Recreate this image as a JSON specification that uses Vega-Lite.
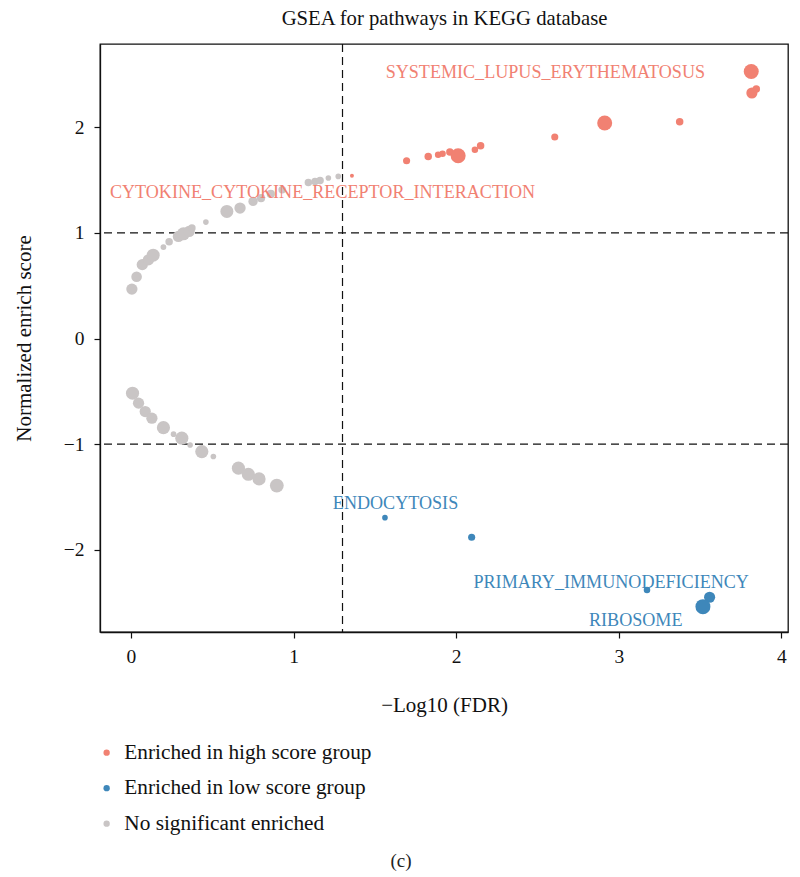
{
  "$schema": "https://vega.github.io/schema/vega-lite/v6.json",
  "width": 688,
  "height": 588,
  "autosize": "none",
  "padding": {"left": 100, "top": 44, "right": 12, "bottom": 245},
  "background": "white",
  "title": {
    "text": "(c)",
    "orient": "bottom",
    "anchor": "middle",
    "offset": 18,
    "dx": -43,
    "font": "Liberation Serif",
    "fontSize": 19,
    "fontWeight": "normal",
    "color": "#222"
  },
  "config": {
    "font": "Liberation Serif",
    "view": {"stroke": "#111", "strokeWidth": 1.3},
    "axis": {
      "grid": false,
      "domainColor": "#111",
      "domainWidth": 1.3,
      "tickColor": "#111",
      "tickWidth": 1.2,
      "tickSize": 6,
      "labelFont": "Liberation Serif",
      "labelFontSize": 19.5,
      "labelColor": "#111",
      "titleFont": "Liberation Serif",
      "titleFontSize": 21,
      "titleFontWeight": "normal",
      "titleColor": "#111"
    },
    "legend": {
      "labelFont": "Liberation Serif",
      "labelFontSize": 21.3,
      "labelColor": "#111",
      "labelLimit": 0
    }
  },
  "datasets": {
    "pathways": [
      {"fdr": 3.814, "nes": 2.530, "genes": 200, "group": "Enriched in high score group"},
      {"fdr": 3.818, "nes": 2.326, "genes": 110, "group": "Enriched in high score group"},
      {"fdr": 3.845, "nes": 2.364, "genes": 50, "group": "Enriched in high score group"},
      {"fdr": 3.374, "nes": 2.054, "genes": 50, "group": "Enriched in high score group"},
      {"fdr": 2.913, "nes": 2.042, "genes": 200, "group": "Enriched in high score group"},
      {"fdr": 2.606, "nes": 1.909, "genes": 45, "group": "Enriched in high score group"},
      {"fdr": 1.695, "nes": 1.684, "genes": 45, "group": "Enriched in high score group"},
      {"fdr": 1.828, "nes": 1.725, "genes": 50, "group": "Enriched in high score group"},
      {"fdr": 1.889, "nes": 1.741, "genes": 38, "group": "Enriched in high score group"},
      {"fdr": 1.916, "nes": 1.751, "genes": 38, "group": "Enriched in high score group"},
      {"fdr": 1.961, "nes": 1.767, "genes": 50, "group": "Enriched in high score group"},
      {"fdr": 2.012, "nes": 1.732, "genes": 200, "group": "Enriched in high score group"},
      {"fdr": 2.115, "nes": 1.789, "genes": 38, "group": "Enriched in high score group"},
      {"fdr": 2.150, "nes": 1.827, "genes": 50, "group": "Enriched in high score group"},
      {"fdr": 1.359, "nes": 1.542, "genes": 14, "group": "Enriched in high score group"},
      {"fdr": 1.562, "nes": -1.697, "genes": 28, "group": "Enriched in low score group"},
      {"fdr": 2.095, "nes": -1.883, "genes": 45, "group": "Enriched in low score group"},
      {"fdr": 3.173, "nes": -2.382, "genes": 38, "group": "Enriched in low score group"},
      {"fdr": 3.558, "nes": -2.451, "genes": 110, "group": "Enriched in low score group"},
      {"fdr": 3.517, "nes": -2.540, "genes": 200, "group": "Enriched in low score group"},
      {"fdr": 0.006, "nes": 0.468, "genes": 113, "group": "No significant enriched"},
      {"fdr": 0.035, "nes": 0.585, "genes": 100, "group": "No significant enriched"},
      {"fdr": 0.070, "nes": 0.700, "genes": 113, "group": "No significant enriched"},
      {"fdr": 0.108, "nes": 0.746, "genes": 113, "group": "No significant enriched"},
      {"fdr": 0.137, "nes": 0.790, "genes": 150, "group": "No significant enriched"},
      {"fdr": 0.200, "nes": 0.866, "genes": 30, "group": "No significant enriched"},
      {"fdr": 0.235, "nes": 0.916, "genes": 50, "group": "No significant enriched"},
      {"fdr": 0.292, "nes": 0.967, "genes": 113, "group": "No significant enriched"},
      {"fdr": 0.323, "nes": 0.992, "genes": 150, "group": "No significant enriched"},
      {"fdr": 0.358, "nes": 1.014, "genes": 113, "group": "No significant enriched"},
      {"fdr": 0.375, "nes": 1.046, "genes": 50, "group": "No significant enriched"},
      {"fdr": 0.461, "nes": 1.103, "genes": 28, "group": "No significant enriched"},
      {"fdr": 0.590, "nes": 1.204, "genes": 150, "group": "No significant enriched"},
      {"fdr": 0.671, "nes": 1.236, "genes": 113, "group": "No significant enriched"},
      {"fdr": 0.751, "nes": 1.299, "genes": 78, "group": "No significant enriched"},
      {"fdr": 0.800, "nes": 1.330, "genes": 60, "group": "No significant enriched"},
      {"fdr": 0.860, "nes": 1.370, "genes": 60, "group": "No significant enriched"},
      {"fdr": 0.930, "nes": 1.410, "genes": 50, "group": "No significant enriched"},
      {"fdr": 1.091, "nes": 1.479, "genes": 50, "group": "No significant enriched"},
      {"fdr": 1.132, "nes": 1.488, "genes": 50, "group": "No significant enriched"},
      {"fdr": 1.163, "nes": 1.498, "genes": 50, "group": "No significant enriched"},
      {"fdr": 1.214, "nes": 1.520, "genes": 28, "group": "No significant enriched"},
      {"fdr": 1.275, "nes": 1.536, "genes": 28, "group": "No significant enriched"},
      {"fdr": 0.010, "nes": -0.518, "genes": 154, "group": "No significant enriched"},
      {"fdr": 0.047, "nes": -0.612, "genes": 113, "group": "No significant enriched"},
      {"fdr": 0.088, "nes": -0.692, "genes": 113, "group": "No significant enriched"},
      {"fdr": 0.129, "nes": -0.755, "genes": 113, "group": "No significant enriched"},
      {"fdr": 0.200, "nes": -0.844, "genes": 154, "group": "No significant enriched"},
      {"fdr": 0.262, "nes": -0.906, "genes": 28, "group": "No significant enriched"},
      {"fdr": 0.313, "nes": -0.944, "genes": 154, "group": "No significant enriched"},
      {"fdr": 0.364, "nes": -1.008, "genes": 28, "group": "No significant enriched"},
      {"fdr": 0.436, "nes": -1.071, "genes": 154, "group": "No significant enriched"},
      {"fdr": 0.507, "nes": -1.118, "genes": 28, "group": "No significant enriched"},
      {"fdr": 0.661, "nes": -1.228, "genes": 154, "group": "No significant enriched"},
      {"fdr": 0.722, "nes": -1.286, "genes": 154, "group": "No significant enriched"},
      {"fdr": 0.788, "nes": -1.330, "genes": 154, "group": "No significant enriched"},
      {"fdr": 0.897, "nes": -1.393, "genes": 170, "group": "No significant enriched"}
    ],
    "labels": [
      {"fdr": 2.548, "nes": 2.518, "name": "SYSTEMIC_LUPUS_ERYTHEMATOSUS", "group": "Enriched in high score group"},
      {"fdr": 1.178, "nes": 1.381, "name": "CYTOKINE_CYTOKINE_RECEPTOR_INTERACTION", "group": "Enriched in high score group"},
      {"fdr": 1.627, "nes": -1.567, "name": "ENDOCYTOSIS", "group": "Enriched in low score group"},
      {"fdr": 2.953, "nes": -2.316, "name": "PRIMARY_IMMUNODEFICIENCY", "group": "Enriched in low score group"},
      {"fdr": 3.104, "nes": -2.677, "name": "RIBOSOME", "group": "Enriched in low score group"}
    ],
    "cutoffs_x": [{"fdr": 1.301}],
    "cutoffs_y": [{"nes": 1}, {"nes": -1}]
  },
  "resolve": {"axis": {"x": "independent", "y": "independent"}},
  "layer": [
    {
      "data": {"name": "cutoffs_x"},
      "mark": {"type": "rule", "color": "#111", "strokeWidth": 1.2, "strokeDash": [8, 5]},
      "encoding": {
        "x": {
          "field": "fdr",
          "type": "quantitative",
          "scale": {"domain": [-0.19, 4.04], "nice": false, "zero": false},
          "axis": {
            "orient": "top",
            "labels": false,
            "ticks": false,
            "domain": false,
            "title": "GSEA for pathways in KEGG database",
            "titlePadding": 16,
            "titleFontSize": 20.7
          }
        }
      }
    },
    {
      "data": {"name": "cutoffs_y"},
      "mark": {"type": "rule", "color": "#111", "strokeWidth": 1.2, "strokeDash": [8, 5]},
      "encoding": {
        "y": {
          "field": "nes",
          "type": "quantitative",
          "scale": {"domain": [-2.78, 2.79], "nice": false, "zero": false},
          "axis": null
        }
      }
    },
    {
      "data": {"name": "pathways"},
      "mark": {"type": "circle", "opacity": 1},
      "encoding": {
        "x": {
          "field": "fdr",
          "type": "quantitative",
          "axis": {
            "orient": "bottom",
            "values": [0, 1, 2, 3, 4],
            "title": "−Log10 (FDR)",
            "titlePadding": 29,
            "labelPadding": 9
          }
        },
        "y": {
          "field": "nes",
          "type": "quantitative",
          "axis": {
            "values": [-2, -1, 0, 1, 2],
            "title": "Normalized enrich score",
            "titlePadding": 29,
            "labelPadding": 10
          }
        },
        "size": {
          "field": "genes",
          "type": "quantitative",
          "scale": {"domain": [0, 200], "range": [0, 225]},
          "legend": null
        },
        "color": {
          "field": "group",
          "type": "nominal",
          "scale": {
            "domain": ["Enriched in high score group", "Enriched in low score group", "No significant enriched"],
            "range": ["#F18172", "#3E87BA", "#C9C5C5"]
          },
          "legend": {
            "title": null,
            "orient": "none",
            "legendX": -4,
            "legendY": 698,
            "symbolType": "circle",
            "symbolSize": 40,
            "symbolOpacity": 1,
            "labelOffset": 7,
            "rowPadding": 13.5,
            "padding": 0
          }
        }
      }
    },
    {
      "data": {"name": "labels"},
      "mark": {"type": "text", "font": "Liberation Serif", "fontSize": 18.1, "align": "center", "baseline": "middle"},
      "encoding": {
        "x": {"field": "fdr", "type": "quantitative", "axis": null},
        "y": {"field": "nes", "type": "quantitative", "axis": null},
        "text": {"field": "name"},
        "color": {"field": "group", "type": "nominal", "legend": null}
      }
    }
  ]
}
